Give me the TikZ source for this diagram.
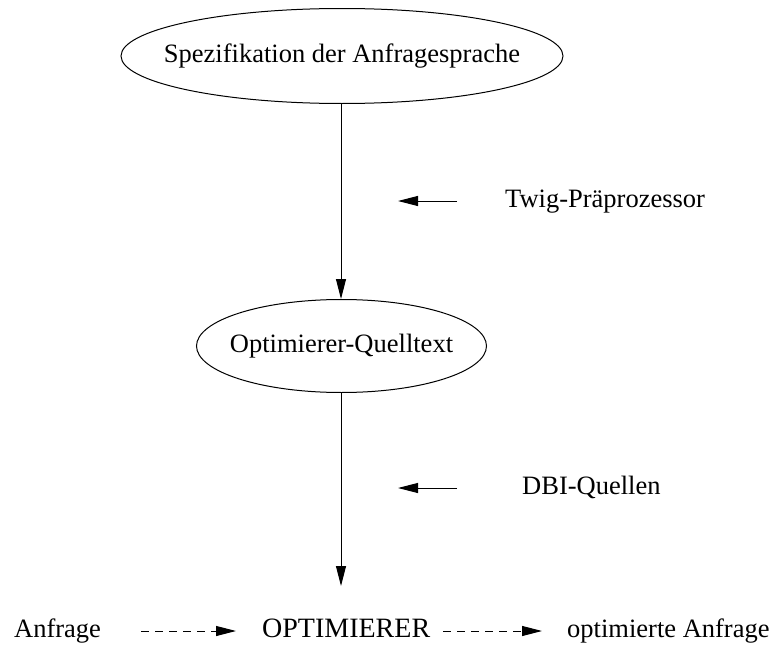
\documentclass[tikz,border=0pt]{standalone}
\usepackage{fontspec}
\setmainfont{Liberation Serif}
\usetikzlibrary{arrows.meta,shapes.geometric}

\tikzset{
  every node/.style={font=\fontsize{26.5}{31}\selectfont},
  % the ellipse keeps its given size; the label is boxed to zero width
  oval/.style={draw, ellipse, line width=1pt, inner sep=0pt,
    text height=18pt, text depth=6pt},
  lbl/.style={text height=18pt, text depth=6pt, inner sep=3pt},
  flow/.style={line width=1pt, -{Triangle[length=20pt,width=10pt]}},
  dashflow/.style={flow, dash pattern=on 8pt off 6pt}
}

\begin{document}
\begin{tikzpicture}[x=1pt, y=-1pt]
  \useasboundingbox (0,0) rectangle (772,645);

  % main chain
  \node[oval, minimum width=442pt, minimum height=95pt] (spec) at (342,56)
    {\makebox[0pt]{Spezifikation der Anfragesprache}};
  \node[oval, minimum width=290pt, minimum height=93pt] (src) at (341.5,346)
    {\makebox[0pt]{Optimierer-Quelltext}};
  \coordinate (coretip) at (341,586);

  % bottom row
  \node[lbl, anchor=west] (query) at (11,631) {Anfrage};
  \node[lbl, anchor=west, font=\fontsize{28}{33}\selectfont] (core) at (259,631) {OPTIMIERER};
  \node[lbl, anchor=west] (result) at (564,631) {optimierte Anfrage};

  % side inputs
  \node[lbl, anchor=west] (twig) at (502,201) {Twig-Präprozessor};
  \node[lbl, anchor=west] (dbi) at (519,488) {DBI-Quellen};
  \coordinate (twigtip) at (398,201);
  \coordinate (dbitip) at (398,488);

  % connectors
  \draw[flow] (341,0 |- spec.south) -- (341,0 |- src.north);
  \draw[flow] (341,0 |- src.south) -- (coretip);
  \draw[flow, shorten <=45pt] (twig.west) -- (twigtip);
  \draw[flow, shorten <=62pt] (dbi.west) -- (dbitip);
  \draw[dashflow, shorten <=37pt, shorten >=23pt] (query.east) -- (core.west);
  \draw[dashflow, shorten <=10pt, shorten >=22pt] (core.east) -- (result.west);
\end{tikzpicture}
\end{document}
